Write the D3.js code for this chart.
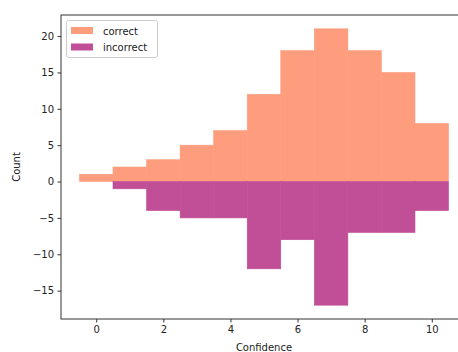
<!DOCTYPE html>
<html><head><meta charset="utf-8">
<script src="https://cdn.jsdelivr.net/npm/d3@7"></script>
<style>body{margin:0;background:#fff}svg{display:block;font-family:"DejaVu Sans",sans-serif}</style>
</head><body>
<script>
const bins = [0,1,2,3,4,5,6,7,8,9,10];
const correct = [1,2,3,5,7,12,18,21,18,15,8];
const incorrect = [0,-1,-4,-5,-5,-12,-8,-17,-7,-7,-4];
const xTicks = [0,2,4,6,8,10];
const yTicks = [-15,-10,-5,0,5,10,15,20];
const seriesNames = ["correct","incorrect"];
const colors = ["#fe9d7e","#c04f97"];

const W=458,H=352;
const svg=d3.select("body").append("svg").attr("width",W).attr("height",H);
const L=61,R=467,T=15,B=319;
const x=d3.scaleLinear().domain([-1.05,11.05]).range([L,R]);
const y=d3.scaleLinear().domain([-18.9,22.9]).range([B,T]);
const g=svg.append("g");
const series=[correct,incorrect];
series.forEach((vals,si)=>{
  g.selectAll(null).data(bins).enter().append("rect")
   .attr("x",d=>x(d-0.5)).attr("width",d=>x(d+0.5)-x(d-0.5))
   .attr("y",(d,i)=>y(Math.max(0,vals[i]))).attr("height",(d,i)=>Math.abs(y(vals[i])-y(0)))
   .attr("fill",colors[si]).attr("stroke",colors[si]).attr("stroke-width",0.6);
});
// frame
svg.append("rect").attr("x",L).attr("y",T).attr("width",R-L).attr("height",B-T)
  .attr("fill","none").attr("stroke","#333").attr("stroke-width",1);
const xa=svg.append("g").attr("transform",`translate(0,${B})`)
  .call(d3.axisBottom(x).tickValues(xTicks).tickSize(3.5).tickPadding(3.5).tickFormat(d3.format("d")));
const ya=svg.append("g").attr("transform",`translate(${L},0)`)
  .call(d3.axisLeft(y).tickValues(yTicks).tickSize(3.5).tickPadding(3.5).tickFormat(d=>d<0?"\u2212"+Math.abs(d):d));
[xa,ya].forEach(a=>{a.select(".domain").remove();a.selectAll("text").attr("font-size",10).attr("fill","#222").attr("font-family","DejaVu Sans");a.selectAll("line").attr("stroke","#333");});
svg.append("text").attr("x",(L+R)/2).attr("y",350.5).attr("text-anchor","middle").attr("font-size",10).attr("fill","#222").text("Confidence");
svg.append("text").attr("transform",`translate(20,${(T+B)/2}) rotate(-90)`).attr("text-anchor","middle").attr("font-size",10).attr("fill","#222").text("Count");
// legend
const lg=svg.append("g");
lg.append("rect").attr("x",66.5).attr("y",20.5).attr("width",91).attr("height",37).attr("rx",2)
  .attr("fill","#fff").attr("fill-opacity",0.8).attr("stroke","#ccc");
seriesNames.forEach((n,i)=>{
  lg.append("rect").attr("x",71).attr("y",27+i*16.5).attr("width",22).attr("height",7).attr("fill",colors[i]);
  lg.append("text").attr("x",103).attr("y",34.5+i*16.5).attr("font-size",10).attr("fill","#222").text(n);
});
</script>
</body></html>
